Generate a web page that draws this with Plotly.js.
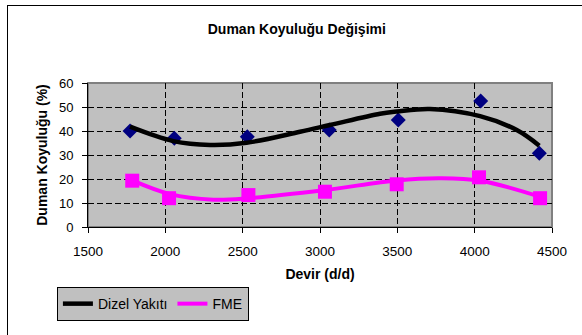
<!DOCTYPE html>
<html><head><meta charset="utf-8">
<script src="https://cdn.plot.ly/plotly-3.0.1.min.js"></script>
<style>
html,body{margin:0;padding:0;background:#fff;}
#wrap{position:relative;width:582px;height:335px;overflow:hidden;}
#chart{width:582px;height:335px;}
#frame{position:absolute;left:7px;top:5px;width:600px;height:400px;border:1.5px solid #000;pointer-events:none;box-sizing:border-box;}
</style></head>
<body>
<div id="wrap"><div id="chart"></div><div id="frame"></div></div>
<script>
// Measured points
var dizelX = [1772, 2058, 2530, 3060, 3506, 4039, 4418];
var dizelY = [40.0, 37.0, 37.6, 40.4, 44.6, 52.5, 30.7];
var fmeX = [1786, 2024, 2537, 3032, 3496, 4028, 4423];
var fmeY = [19.3, 12.0, 13.3, 14.7, 17.8, 20.7, 12.0];
// Trend curves
var dizelTrendX = [1772, 2052, 2289, 2525, 2871, 3064, 3388, 3496, 3711, 4035, 4272, 4418];
var dizelTrendY = [41.8, 35.8, 34.2, 35.1, 39.7, 42.5, 47.2, 48.1, 49.2, 46.2, 40.4, 33.9];
var fmeTrendX = [1786, 2030, 2310, 2537, 3032, 3496, 3775, 4035, 4423];
var fmeTrendY = [19.4, 13.7, 11.4, 12.0, 15.4, 19.4, 20.3, 19.3, 12.6];
var xTicks = [1500, 2000, 2500, 3000, 3500, 4000, 4500];
var yTicks = [0, 10, 20, 30, 40, 50, 60];

var traces = [
  {x: dizelX, y: dizelY, type: 'scatter', mode: 'markers', showlegend: false,
   marker: {symbol: 'diamond', color: '#000080', size: 11.5}},
  {x: dizelTrendX, y: dizelTrendY, type: 'scatter', mode: 'lines', name: 'Dizel Yakıtı',
   line: {color: '#000000', width: 4.5, shape: 'spline', smoothing: 1}},
  {x: fmeTrendX, y: fmeTrendY, type: 'scatter', mode: 'lines', name: 'FME',
   line: {color: '#FF00FF', width: 4, shape: 'spline', smoothing: 1}},
  {x: fmeX, y: fmeY, type: 'scatter', mode: 'markers', showlegend: false,
   marker: {symbol: 'square', color: '#FF00FF', size: 14}}
];

var F = 'Arial, Liberation Sans, sans-serif';
var layout = {
  width: 582, height: 335,
  margin: {l: 88, r: 30, t: 83, b: 108},
  paper_bgcolor: '#ffffff',
  plot_bgcolor: '#c0c0c0',
  font: {family: F, size: 13, color: '#000'},
  title: {text: '<b>Duman Koyuluğu Değişimi</b>', x: 0.51, xanchor: 'center',
          yref: 'container', y: 0.913, yanchor: 'middle',
          font: {size: 14, family: F}},
  xaxis: {
    range: [1500, 4500], tickvals: xTicks, ticktext: xTicks.map(String),
    showgrid: true, gridcolor: '#000', griddash: '6px,3px', gridwidth: 1,
    showline: true, linecolor: '#000', linewidth: 1,
    ticks: 'outside', ticklen: 5, tickcolor: '#000', ticklabelstandoff: 7,
    zeroline: false, tickfont: {size: 13.5},
    title: {text: '<b>Devir (d/d)</b>', font: {size: 14}, standoff: 10}
  },
  yaxis: {
    range: [0, 60], tickvals: yTicks, ticktext: yTicks.map(String),
    showgrid: true, gridcolor: '#000', griddash: '6px,3px', gridwidth: 1,
    showline: true, linecolor: '#000', linewidth: 1,
    ticks: 'outside', ticklen: 5, tickcolor: '#000', ticklabelstandoff: 6,
    zeroline: false, tickfont: {size: 13},
    title: {text: '<b>Duman Koyuluğu (%)</b>', font: {size: 14}, standoff: 8}
  },
  shapes: [
    {type: 'rect', xref: 'paper', yref: 'paper', x0: 0, x1: 1, y0: 0, y1: 1,
     line: {color: '#808080', width: 2}, layer: 'below'}
  ],
  showlegend: true,
  legend: {
    orientation: 'h', x: -0.067, xanchor: 'left', y: -0.417, yanchor: 'top',
    bgcolor: '#c0c0c0', bordercolor: '#000', borderwidth: 1,
    font: {size: 14}, itemwidth: 30, tracegroupgap: 0
  }
};

Plotly.newPlot('chart', traces, layout, {displayModeBar: false, staticPlot: true});
</script>
</body></html>
